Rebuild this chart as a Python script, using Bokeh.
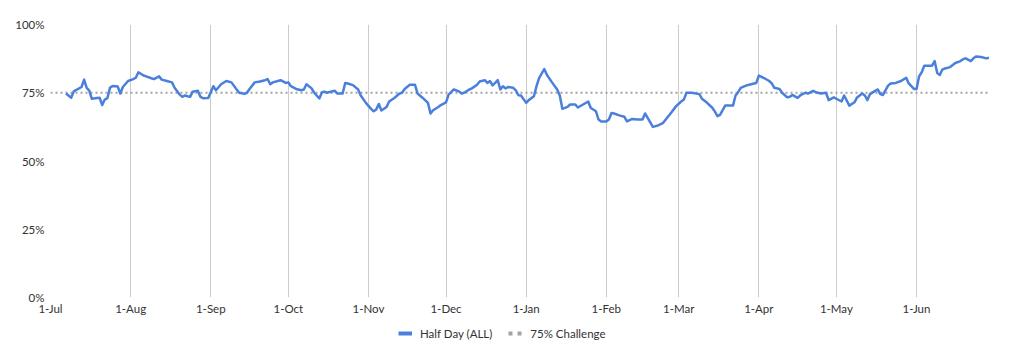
import pandas as pd
from bokeh.plotting import figure
from bokeh.layouts import column
from bokeh.models import (Range1d, FixedTicker, PrintfTickFormatter, DatetimeTickFormatter,
                          Legend, LegendItem, ColumnDataSource)
from bokeh.embed import file_html
from bokeh.resources import INLINE

# ---- data ----
dates = [
    "2018-07-07", "2018-07-09", "2018-07-10", "2018-07-13", "2018-07-14", "2018-07-15", "2018-07-16",
    "2018-07-17", "2018-07-19", "2018-07-20", "2018-07-21", "2018-07-22", "2018-07-23", "2018-07-24",
    "2018-07-25", "2018-07-27", "2018-07-28", "2018-07-29", "2018-07-31",
    "2018-08-02", "2018-08-03", "2018-08-04", "2018-08-06", "2018-08-07", "2018-08-09", "2018-08-10",
    "2018-08-12", "2018-08-13", "2018-08-15", "2018-08-17", "2018-08-18", "2018-08-20", "2018-08-21",
    "2018-08-22", "2018-08-23", "2018-08-24", "2018-08-25", "2018-08-27", "2018-08-28", "2018-08-29",
    "2018-08-31",
    "2018-09-02", "2018-09-03", "2018-09-05", "2018-09-07", "2018-09-09", "2018-09-11", "2018-09-12",
    "2018-09-14", "2018-09-15", "2018-09-16", "2018-09-18", "2018-09-20", "2018-09-22", "2018-09-23",
    "2018-09-24", "2018-09-25", "2018-09-28", "2018-09-30",
    "2018-10-01", "2018-10-02", "2018-10-04", "2018-10-06", "2018-10-07", "2018-10-08", "2018-10-10",
    "2018-10-11", "2018-10-13", "2018-10-14", "2018-10-15", "2018-10-16", "2018-10-17", "2018-10-19",
    "2018-10-20", "2018-10-22", "2018-10-23", "2018-10-24", "2018-10-26", "2018-10-28", "2018-10-29",
    "2018-10-31",
    "2018-11-02", "2018-11-03", "2018-11-04", "2018-11-05", "2018-11-06", "2018-11-08", "2018-11-09",
    "2018-11-11", "2018-11-13", "2018-11-14", "2018-11-15", "2018-11-17", "2018-11-19", "2018-11-20",
    "2018-11-22", "2018-11-24", "2018-11-25", "2018-11-26", "2018-11-28", "2018-11-29",
    "2018-12-01", "2018-12-02", "2018-12-04", "2018-12-06", "2018-12-07", "2018-12-08", "2018-12-10",
    "2018-12-11", "2018-12-13", "2018-12-14", "2018-12-16", "2018-12-17", "2018-12-18", "2018-12-19",
    "2018-12-20", "2018-12-21", "2018-12-22", "2018-12-23", "2018-12-24", "2018-12-25", "2018-12-27",
    "2018-12-28", "2018-12-29", "2018-12-30",
    "2019-01-01", "2019-01-02", "2019-01-04", "2019-01-05", "2019-01-06", "2019-01-08", "2019-01-09",
    "2019-01-11", "2019-01-13", "2019-01-14", "2019-01-15", "2019-01-17", "2019-01-18", "2019-01-20",
    "2019-01-21", "2019-01-23", "2019-01-25", "2019-01-26", "2019-01-28", "2019-01-29", "2019-01-30",
    "2019-02-01", "2019-02-02", "2019-02-03", "2019-02-04", "2019-02-06", "2019-02-08", "2019-02-09",
    "2019-02-11", "2019-02-13", "2019-02-15", "2019-02-16", "2019-02-17", "2019-02-19", "2019-02-21",
    "2019-02-23", "2019-02-24", "2019-02-26", "2019-02-28",
    "2019-03-02", "2019-03-03", "2019-03-04", "2019-03-06", "2019-03-09", "2019-03-10", "2019-03-12",
    "2019-03-14", "2019-03-15", "2019-03-16", "2019-03-17", "2019-03-18", "2019-03-19", "2019-03-21",
    "2019-03-22", "2019-03-23", "2019-03-24", "2019-03-25", "2019-03-27", "2019-03-29", "2019-03-31",
    "2019-04-01", "2019-04-03", "2019-04-05", "2019-04-06", "2019-04-07", "2019-04-09", "2019-04-10",
    "2019-04-12", "2019-04-13", "2019-04-14", "2019-04-16", "2019-04-17", "2019-04-19", "2019-04-20",
    "2019-04-22", "2019-04-23", "2019-04-25", "2019-04-27", "2019-04-28", "2019-04-30",
    "2019-05-01", "2019-05-03", "2019-05-04", "2019-05-06", "2019-05-08", "2019-05-09", "2019-05-11",
    "2019-05-12", "2019-05-13", "2019-05-14", "2019-05-16", "2019-05-17", "2019-05-18", "2019-05-19",
    "2019-05-21", "2019-05-22", "2019-05-24", "2019-05-26", "2019-05-28", "2019-05-29", "2019-05-31",
    "2019-06-01", "2019-06-02", "2019-06-03", "2019-06-04", "2019-06-06", "2019-06-07", "2019-06-08",
    "2019-06-09", "2019-06-10", "2019-06-11", "2019-06-12", "2019-06-14", "2019-06-16", "2019-06-18",
    "2019-06-19", "2019-06-20", "2019-06-22", "2019-06-23", "2019-06-24", "2019-06-26", "2019-06-28",
    "2019-06-29",
]
half_day_pct = [
    74.7, 73.2, 75.5, 77.1, 79.8, 76.8, 75.8,
    72.8, 73.1, 73.2, 70.5, 72.5, 73.0, 76.8,
    77.5, 77.3, 74.7, 77.1, 79.3,
    80.0, 80.5, 82.5, 81.3, 81.0, 80.3, 80.0,
    81.0, 79.8, 79.3, 78.8, 76.8, 74.3, 73.5,
    74.0, 73.7, 73.5, 75.4, 75.7, 73.5, 73.0,
    73.1,
    77.4, 75.9, 78.1, 79.3, 78.8, 76.2, 75.0,
    74.6, 75.0, 76.4, 78.8, 79.1, 79.6, 80.0,
    78.1, 78.8, 79.6, 78.6,
    78.8, 77.4, 76.4, 75.9, 76.2, 78.1, 76.6,
    75.0, 72.9, 75.2, 75.4, 75.0, 75.3, 75.7,
    74.7, 74.7, 78.6, 78.4, 77.8, 76.2, 74.0,
    71.3,
    69.1, 68.2, 68.9, 70.9, 68.5, 69.8, 71.8,
    73.1, 74.7, 75.0, 76.4, 77.9, 77.9, 74.7,
    73.1, 71.3, 67.4, 68.6, 69.8, 70.5,
    71.5, 74.3, 76.2, 75.5, 74.7, 75.0, 76.2,
    76.6, 77.9, 79.1, 79.6, 78.6, 79.3, 77.7,
    78.6, 79.6, 76.2, 77.4, 76.6, 77.1, 76.8,
    75.9, 74.1, 74.0,
    71.3, 72.3, 73.7, 77.4, 80.4, 83.7, 81.6,
    78.8, 76.2, 74.0, 69.1, 69.8, 70.7, 70.7,
    69.6, 70.7, 71.8, 69.4, 68.2, 65.2, 64.5,
    64.5, 65.2, 67.6, 67.4, 66.7, 66.2, 64.5,
    65.4, 65.2, 65.2, 67.4, 65.8, 62.5, 63.0,
    64.0, 65.2, 67.6, 70.1,
    71.8, 72.5, 75.0, 75.0, 74.5, 72.8, 71.3,
    69.5, 68.1, 66.4, 66.9, 68.6, 70.3, 70.3,
    70.3, 74.0, 75.2, 76.8, 77.6, 78.1, 78.6,
    81.3, 80.4, 79.3, 78.4, 76.8, 76.4, 75.0,
    73.3, 73.5, 74.2, 73.1, 74.0, 75.0, 74.7,
    75.7, 75.2, 74.7, 75.0, 72.3, 73.3,
    72.8, 71.8, 74.0, 70.3, 71.5, 73.3, 74.7,
    74.0, 72.3, 74.5, 75.7, 76.2, 74.5, 74.2,
    77.6, 78.4, 78.6, 79.3, 80.5, 78.4, 76.4,
    76.4, 81.0, 82.5, 84.9, 84.9, 84.9, 86.6,
    82.2, 81.5, 83.5, 83.9, 84.4, 85.9, 86.6,
    87.3, 87.6, 86.6, 87.6, 88.3, 88.1, 87.6,
    87.8,
]
challenge_dates = ["2018-07-01", "2019-06-29"]
challenge_pct = [75, 75]
month_ticks = ["2018-07-01", "2018-08-01", "2018-09-01", "2018-10-01", "2018-11-01", "2018-12-01",
               "2019-01-01", "2019-02-01", "2019-03-01", "2019-04-01", "2019-05-01", "2019-06-01"]
y_ticks = [0, 25, 50, 75, 100]
x_start, x_end = "2018-07-01", "2019-06-30"
series_labels = ["Half Day (ALL)", "75% Challenge"]

FONT = "Lato"
TXT = "#333333"
BLUE = "#4a80dc"
GRAY = "#a3a3a3"

src = ColumnDataSource(dict(x=pd.to_datetime(dates), y=half_day_pct))
ch_src = ColumnDataSource(dict(x=pd.to_datetime(challenge_dates), y=challenge_pct))

main = figure(width=1000, height=319, x_axis_type="datetime", output_backend="svg",
              toolbar_location=None,
              x_range=Range1d(pd.Timestamp(x_start), pd.Timestamp(x_end)),
              y_range=Range1d(0, 100),
              min_border_left=50, min_border_right=9, min_border_top=24, min_border_bottom=22)
main.outline_line_color = None

main.line("x", "y", source=ch_src, line_color=GRAY, line_width=2, line_dash="2 3")
main.line("x", "y", source=src, line_color=BLUE, line_width=2.5, line_join="round")

main.xaxis.ticker = FixedTicker(ticks=[pd.Timestamp(d).value // 10**6 for d in month_ticks])
fmt = "%-d-%b"
main.xaxis.formatter = DatetimeTickFormatter(days=fmt, months=fmt, years=fmt, hours=fmt, hourmin=fmt)
main.yaxis.ticker = FixedTicker(ticks=y_ticks)
main.yaxis.formatter = PrintfTickFormatter(format="%d%%")
for ax in (main.xaxis, main.yaxis):
    ax.axis_line_color = None
    ax.major_tick_line_color = None
    ax.minor_tick_line_color = None
    ax.major_tick_out = 0
    ax.major_tick_in = 0
    ax.minor_tick_out = 0
    ax.minor_tick_in = 0
    ax.major_label_text_font = FONT
    ax.major_label_text_font_size = "11.5px"
    ax.major_label_text_color = TXT
main.xaxis.major_label_standoff = 4
main.yaxis.major_label_standoff = 6

main.xgrid.grid_line_color = "#cccccc"
main.xgrid.grid_line_width = 1
main.ygrid.grid_line_color = None

# ---- legend strip ----
leg = figure(width=1000, height=39, output_backend="svg", toolbar_location=None,
             x_range=Range1d(0, 1), y_range=Range1d(0, 1),
             x_axis_location=None, y_axis_location=None,
             min_border_left=0, min_border_right=0, min_border_top=0, min_border_bottom=0)
leg.outline_line_color = None
leg.xgrid.grid_line_color = None
leg.ygrid.grid_line_color = None
nan2 = [float("nan"), float("nan")]
leg_blue = leg.line(x=nan2, y=nan2, line_color=BLUE, line_width=4)
leg_gray = leg.line(x=nan2, y=nan2, line_color=GRAY, line_width=4, line_dash="4 5")

legend = Legend(items=[LegendItem(label=series_labels[0], renderers=[leg_blue]),
                       LegendItem(label=series_labels[1], renderers=[leg_gray])],
                orientation="horizontal", location=(348, 17),
                label_text_font=FONT, label_text_font_size="11.5px", label_text_color=TXT,
                glyph_width=14, glyph_height=16, label_height=16, label_standoff=8,
                spacing=16, padding=0, margin=0,
                border_line_color=None, background_fill_alpha=0)
leg.add_layout(legend, "center")

p = column(main, leg, spacing=0)

open("out.html", "w").write(file_html(p, INLINE))
